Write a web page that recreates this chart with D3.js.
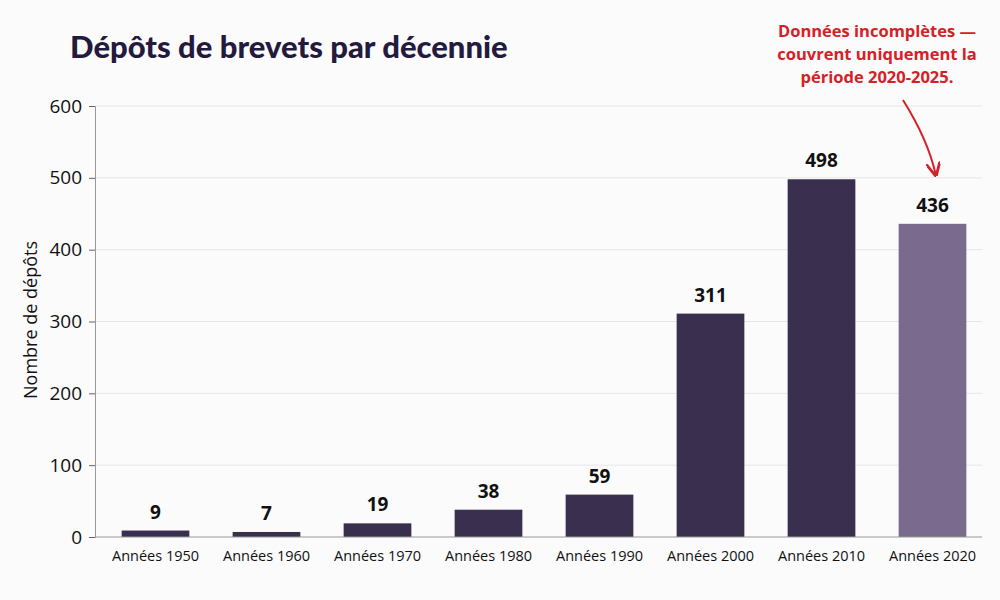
<!DOCTYPE html>
<html>
<head>
<meta charset="utf-8">
<script src="https://cdn.jsdelivr.net/npm/d3@7"></script>
<style>
body { margin: 0; background: #fbfbfb; }
svg { display: block; font-family: "Open Sans", sans-serif; }
</style>
</head>
<body>
<svg width="1000" height="600"></svg>
<script>
// data
var decades = ['Années 1950','Années 1960','Années 1970','Années 1980','Années 1990','Années 2000','Années 2010','Années 2020'];
var counts = [9, 7, 19, 38, 59, 311, 498, 436];
var yTicks = [0, 100, 200, 300, 400, 500, 600];
var noteLines = ['Données incomplètes —', 'couvrent uniquement la', 'période 2020-2025.'];

var svg = d3.select('svg');
svg.append('rect').attr('width', 1000).attr('height', 600).attr('fill', '#fbfbfb');

var x = d3.scaleBand().domain(decades).range([100, 988]).paddingInner(0.39).paddingOuter(0.195);
var y = d3.scaleLinear().domain([0, 600]).range([537, 106]);

// grid
svg.append('g').selectAll('line').data(yTicks.slice(1)).enter().append('line')
  .attr('x1', 96).attr('x2', 982)
  .attr('y1', function(d){ return y(d); }).attr('y2', function(d){ return y(d); })
  .attr('stroke', '#e6e6e6').attr('stroke-width', 1);

// bars
svg.append('g').selectAll('rect').data(counts).enter().append('rect')
  .attr('x', function(d, i){ return x(decades[i]); })
  .attr('y', function(d){ return y(d); })
  .attr('width', x.bandwidth())
  .attr('height', function(d){ return y(0) - y(d); })
  .attr('fill', function(d, i){ return i == 7 ? '#7a6a8e' : '#3b2f4f'; });

// value labels
svg.append('g').selectAll('text').data(counts).enter().append('text')
  .attr('x', function(d, i){ return x(decades[i]) + x.bandwidth() / 2; })
  .attr('y', function(d){ return y(d) - 12; })
  .attr('text-anchor', 'middle')
  .attr('font-size', 19).attr('font-weight', 700).attr('fill', '#111')
  .text(function(d){ return d; });

// y axis
var yAxis = svg.append('g').attr('transform', 'translate(95,0)')
  .call(d3.axisLeft(y).tickValues(yTicks).tickSize(6).tickPadding(7));
yAxis.select('.domain').attr('stroke', '#999');
yAxis.selectAll('.tick line').attr('stroke', '#666');
yAxis.selectAll('.tick text').attr('font-size', 19).attr('fill', '#111').attr('font-family', '"Open Sans", sans-serif');

// x axis
var xAxis = svg.append('g').attr('transform', 'translate(0,537)')
  .call(d3.axisBottom(x).tickSize(0).tickPadding(14));
xAxis.select('.domain').attr('stroke', '#999').attr('d', 'M95,0H982');
xAxis.selectAll('.tick text').attr('font-size', 14.5).attr('fill', '#111').attr('font-family', '"Open Sans", sans-serif');

// axis title
svg.append('text')
  .attr('transform', 'translate(37,320) rotate(-90)')
  .attr('text-anchor', 'middle')
  .attr('font-size', 18).attr('fill', '#111')
  .text('Nombre de dépôts');

// title
svg.append('text')
  .attr('x', 70).attr('y', 58)
  .attr('font-family', 'Lato, sans-serif')
  .attr('font-size', 31).attr('font-weight', 900).attr('fill', '#231a3e')
  .text('Dépôts de brevets par décennie');

// note
svg.append('g').selectAll('text').data(noteLines).enter().append('text')
  .attr('x', 877).attr('y', function(d, i){ return 37 + i * 23; })
  .attr('text-anchor', 'middle')
  .attr('font-size', 16.5).attr('font-weight', 700).attr('fill', '#d42027')
  .text(function(d){ return d; });

svg.append('defs').append('marker')
  .attr('id', 'head').attr('viewBox', '0 0 10 10').attr('refX', 8).attr('refY', 5)
  .attr('markerWidth', 7).attr('markerHeight', 7).attr('orient', 'auto-start-reverse')
  .append('path').attr('d', 'M0,0 L10,5 L0,10').attr('fill', 'none').attr('stroke', '#d42027').attr('stroke-width', 2);

var tx = x('Années 2020') + x.bandwidth() / 2 + 3;
svg.append('path')
  .attr('d', 'M903,100 Q928,140 ' + tx + ',' + (y(436) - 50))
  .attr('fill', 'none').attr('stroke', '#d42027').attr('stroke-width', 2)
  .attr('marker-end', 'url(#head)');
</script>
</body>
</html>
